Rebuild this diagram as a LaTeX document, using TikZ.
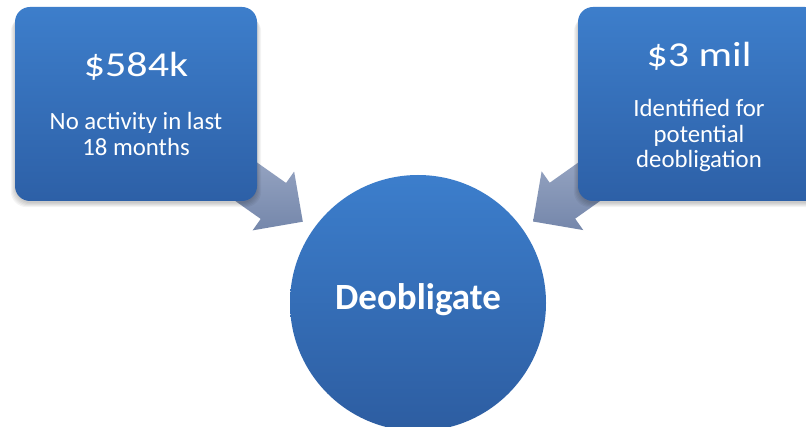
\documentclass[tikz,border=0pt]{standalone}
\usepackage{fontspec}
\setmainfont{Carlito}
\usetikzlibrary{calc}
\definecolor{boxtop}{HTML}{3D7ECB}
\definecolor{boxbot}{HTML}{2D60A7}
\definecolor{circtop}{HTML}{3C7ECC}
\definecolor{circbot}{HTML}{2D5DA1}
\definecolor{arrtop}{HTML}{9DABC7}
\definecolor{arrbot}{HTML}{7587AB}
\newcommand\blockarr[2]{%
  \coordinate (hb) at ($(#2)!36pt!(#1)$);
  \shade[top color=arrtop, bottom color=arrbot]
    ($(#1)!22pt!90:(#2)$) -- ($(hb)!22pt!90:(#2)$) -- ($(hb)!36pt!90:(#2)$) -- (#2)
    -- ($(hb)!36pt!-90:(#2)$) -- ($(hb)!22pt!-90:(#2)$) -- ($(#1)!22pt!-90:(#2)$) -- cycle;}
\begin{document}
\begin{tikzpicture}[x=1pt,y=1pt,
  boxnode/.style={rectangle, rounded corners=15pt, minimum width=242pt, minimum height=194pt,
    inner sep=0pt, shade, top color=boxtop, bottom color=boxbot},
  circnode/.style={circle, minimum size=256pt, inner sep=0pt, shade, top color=circtop, bottom color=circbot},
  numtxt/.style={text=white, font=\fontsize{35}{42}\selectfont, anchor=base, inner sep=0pt},
  bodytxt/.style={text=white, font=\fontsize{24.8}{28}\selectfont, anchor=base, inner sep=0pt},
  maintxt/.style={text=white, font=\fontsize{37}{44}\selectfont\bfseries, anchor=base, inner sep=0pt},
  shadowlayer/.style={fill=black, opacity=0.045, rounded corners=16pt}]
\useasboundingbox (0,0) rectangle (806,-427);
\clip (0,0) rectangle (806,-427);
\fill[white] (0,0) rectangle (806,-427);
% invisible placement of nodes first (for coordinates)
\path (136,-104) node[boxnode, shade=false, fill=none, draw=none] (L) {};
\path (699,-104) node[boxnode, shade=false, fill=none, draw=none] (R) {};
\path (418,-303) node[circnode, shade=false, fill=none, draw=none] (C) {};
% arrows
\coordinate (t1) at ($(C.center)!141pt!(L.center)$);
\coordinate (s1) at ($(C.center)!250pt!(L.center)$);
\coordinate (t2) at ($(C.center)!141pt!(R.center)$);
\coordinate (s2) at ($(C.center)!250pt!(R.center)$);
\blockarr{s1}{t1}
\blockarr{s2}{t2}
% shadows of boxes
\foreach \b in {L,R}{
  \foreach \e/\d in {0/1,1/2,2/3,3/4,4/5}{
    \fill[shadowlayer] ($(\b.south west)+(-\e,-\d-1)$) rectangle ($(\b.north east)+(\e,-\d-4)$);
  }
}
% boxes and circle
\node[boxnode] (Lbox) at (L.center) {};
\node[boxnode] (Rbox) at (R.center) {};
\node[circnode] (Cc) at (C.center) {};
% texts
\node[numtxt] (Lnum) at (136,-77) {\scalebox{1.2}[1]{\$584k}};
\node[bodytxt] (Lb1) at (136,-130) {No activity in last};
\node[bodytxt] (Lb2) at (136,-156) {18 months};
\node[numtxt] (Rnum) at (699,-67) {\scalebox{1.2}[1]{\$3 mil}};
\node[bodytxt] (Rb1) at (699,-117) {Identified for};
\node[bodytxt] (Rb2) at (699,-143) {potential};
\node[bodytxt] (Rb3) at (699,-168) {deobligation};
\node[maintxt] (Ctxt) at (418,-310) {Deobligate};
\end{tikzpicture}
\end{document}
